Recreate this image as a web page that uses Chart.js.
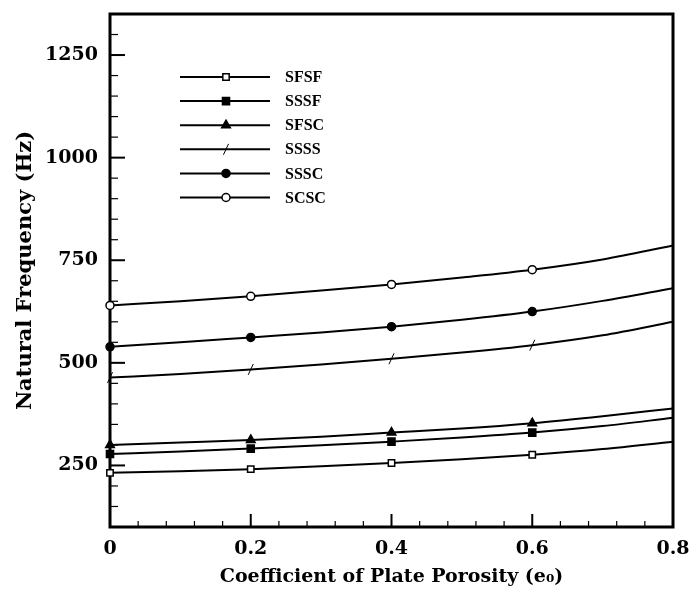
<!DOCTYPE html>
<html>
<head>
<meta charset="utf-8">
<script src="https://cdn.jsdelivr.net/npm/chart.js@4"></script>
<style>
  html, body { margin: 0; padding: 0; background: #fff; }
  #wrap { width: 691px; height: 596px; }
</style>
</head>
<body>
<div id="wrap"><canvas id="chart"></canvas></div>
<script>
const porosity = [0, 0.1, 0.2, 0.3, 0.4, 0.5, 0.6, 0.7, 0.8]
const markerAt = [0, 0.2, 0.4, 0.6]

const sfsf = [232, 236, 241, 248, 256, 265, 276, 290, 308]
const sssf = [278, 284, 291, 299, 308, 318, 330, 346, 366]
const sfsc = [300, 306, 312, 320, 330, 340, 353, 370, 389]
const ssss = [464, 473, 484, 496, 510, 525, 543, 567, 600]
const sssc = [539, 550, 562, 574, 588, 605, 625, 651, 682]
const scsc = [640, 650, 662, 676, 691, 708, 727, 752, 786]

const serif = 'DejaVu Serif'
const legendFont = 'bold 16px "Liberation Serif"'

const series = [
  { label: 'SFSF', values: sfsf, style: 'rect', radius: 4.5, fill: '#fff' },
  { label: 'SSSF', values: sssf, style: 'rect', radius: 5, fill: '#000' },
  { label: 'SFSC', values: sfsc, style: 'triangle', radius: 5, fill: '#000' },
  { label: 'SSSS', values: ssss, style: 'line', radius: 6, fill: '#000', rotation: -65 },
  { label: 'SSSC', values: sssc, style: 'circle', radius: 4, fill: '#000' },
  { label: 'SCSC', values: scsc, style: 'circle', radius: 4, fill: '#fff' },
]

const isMarker = (x) => markerAt.some((m) => Math.abs(m - x) < 1e-9)

const datasets = series.map((s) => ({
  label: s.label,
  data: porosity.map((x, i) => ({ x, y: s.values[i] })),
  borderColor: '#000',
  borderWidth: 2,
  cubicInterpolationMode: 'monotone',
  clip: false,
  pointStyle: s.style,
  pointRotation: s.rotation || 0,
  pointBackgroundColor: s.fill,
  pointBorderColor: '#000',
  pointBorderWidth: s.style === 'line' ? 1 : 1.5,
  pointRadius: (ctx) => (isMarker(porosity[ctx.dataIndex]) ? s.radius : 0),
  pointHoverRadius: 0,
}))

// frame plus inward tick marks, drawn under the lines
const frame = {
  id: 'frame',
  beforeDatasetsDraw(chart) {
    const { ctx, chartArea: a, scales } = chart
    ctx.save()
    ctx.strokeStyle = '#000'
    scales.x.ticks.forEach((t) => {
      const px = scales.x.getPixelForValue(t.value)
      const major = Math.abs(t.value * 5 - Math.round(t.value * 5)) < 1e-6
      ctx.lineWidth = major ? 2 : 1.2
      ctx.beginPath()
      ctx.moveTo(px, a.bottom)
      ctx.lineTo(px, a.bottom - (major ? 13 : 6))
      ctx.stroke()
    })
    scales.y.ticks.forEach((t) => {
      const py = scales.y.getPixelForValue(t.value)
      const major = t.value % 250 === 0
      ctx.lineWidth = major ? 2 : 1.2
      ctx.beginPath()
      ctx.moveTo(a.left, py)
      ctx.lineTo(a.left + (major ? 15 : 8), py)
      ctx.stroke()
    })
    ctx.lineWidth = 3
    ctx.strokeRect(a.left, a.top, a.right - a.left, a.bottom - a.top)
    ctx.restore()
  },
  afterDatasetsDraw(chart) {
    const { ctx } = chart
    ctx.save()
    series.forEach((s, i) => {
      const y = 77 + i * 24.1
      ctx.strokeStyle = '#000'
      ctx.lineWidth = 2
      ctx.beginPath()
      ctx.moveTo(180, y)
      ctx.lineTo(270, y)
      ctx.stroke()
      ctx.fillStyle = s.fill
      ctx.lineWidth = s.style === 'line' ? 1 : 1.5
      Chart.helpers.drawPoint(ctx, {
        pointStyle: s.style,
        radius: s.radius,
        rotation: s.rotation || 0,
        borderWidth: ctx.lineWidth,
      }, 226, y)
      ctx.fillStyle = '#000'
      ctx.font = legendFont
      ctx.textBaseline = 'middle'
      ctx.textAlign = 'left'
      ctx.fillText(s.label, 285, y + 1)
    })
    ctx.restore()
  },
}

new Chart(document.getElementById('chart'), {
  type: 'line',
  data: { datasets },
  plugins: [frame],
  options: {
    responsive: true,
    maintainAspectRatio: false,
    animation: false,
    events: [],
    layout: { padding: { top: 14, right: 18, left: 0, bottom: 0 } },
    plugins: { legend: { display: false }, tooltip: { enabled: false } },
    scales: {
      x: {
        type: 'linear',
        min: 0,
        max: 0.8,
        afterFit: (s) => {
          s.height = 69
          s.paddingLeft = 0
          s.paddingRight = 0
        },
        grid: { display: false },
        border: { display: false },
        ticks: {
          stepSize: 0.04,
          autoSkip: false,
          maxRotation: 0,
          padding: 3,
          color: '#000',
          font: { family: serif, weight: 'bold', size: 19 },
          callback: (v) => {
            if (Math.abs(v * 5 - Math.round(v * 5)) > 1e-6) return ''
            const r = Math.round(v * 5) / 5
            return r === 0 ? '0' : r.toFixed(1)
          },
        },
        title: {
          display: true,
          text: 'Coefficient of Plate Porosity (e₀)',
          color: '#000',
          font: { family: serif, weight: 'bold', size: 19 },
          padding: { top: 0, bottom: 8 },
        },
      },
      y: {
        min: 100,
        max: 1350,
        afterFit: (s) => {
          s.width = 110
          s.paddingTop = 0
          s.paddingBottom = 0
        },
        grid: { display: false },
        border: { display: false },
        ticks: {
          stepSize: 50,
          autoSkip: false,
          padding: 4,
          color: '#000',
          font: { family: serif, weight: 'bold', size: 19 },
          callback: (v) => (v % 250 === 0 ? String(v) : ''),
        },
        title: {
          display: true,
          text: 'Natural Frequency (Hz)',
          color: '#000',
          font: { family: serif, weight: 'bold', size: 21 },
          padding: { top: 13, bottom: 0 },
        },
      },
    },
  },
})
</script>
</body>
</html>
